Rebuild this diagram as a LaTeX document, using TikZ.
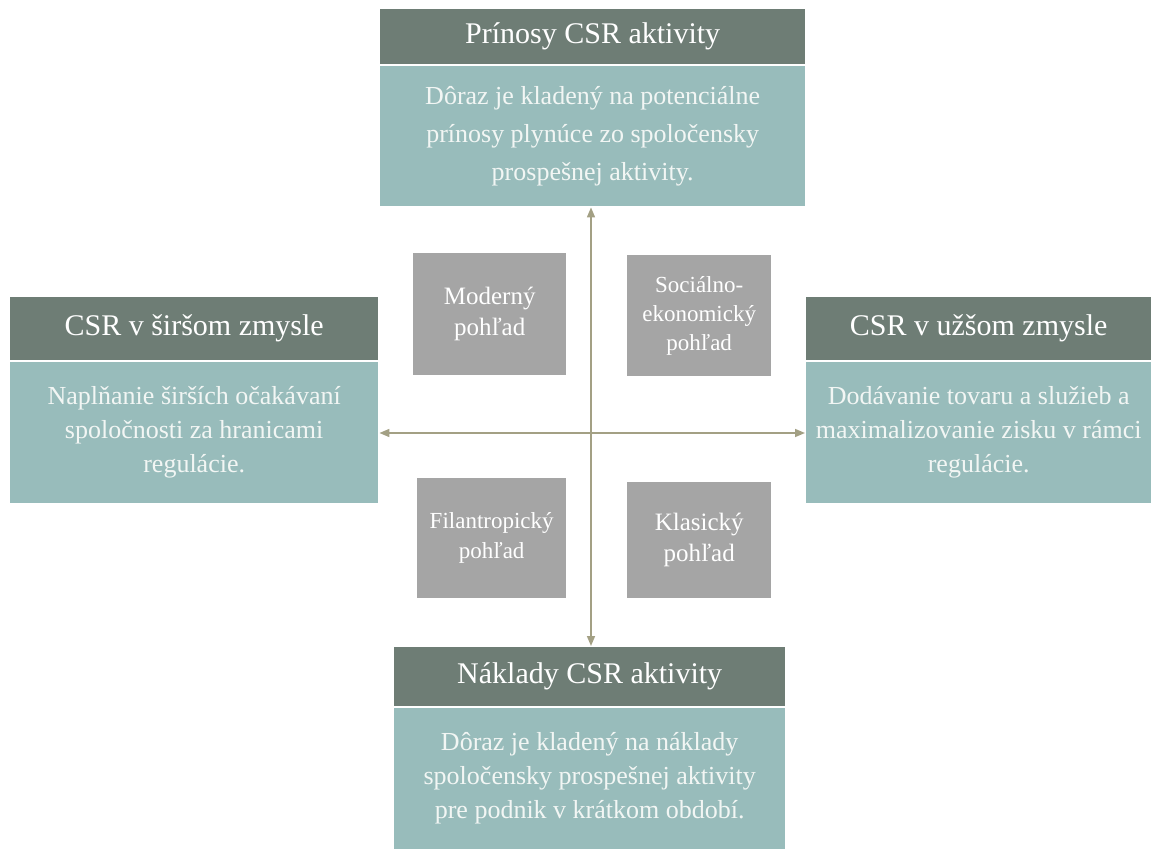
\documentclass[tikz,border=0pt]{standalone}
\usepackage{fontspec}
\setmainfont{Liberation Serif}
\usetikzlibrary{arrows.meta}
\definecolor{headgreen}{HTML}{6E7D75}
\definecolor{bodyteal}{HTML}{98BCBB}
\definecolor{viewgray}{HTML}{A5A5A5}
\definecolor{axiscol}{HTML}{A3A084}
\definecolor{softwhite}{HTML}{F2F6F4}

\begin{document}
\begin{tikzpicture}[x=1pt,y=-1pt,
  headbox/.style={fill=headgreen, text=white, anchor=north west, inner sep=0pt,
    font=\fontsize{30}{34}\selectfont},
  bodybox/.style={fill=bodyteal, text=softwhite, anchor=north west, inner sep=0pt,
    align=center, font=\fontsize{26}{34}\selectfont},
  viewbox/.style={fill=viewgray, text=white, anchor=north west, inner sep=0pt,
    align=center},
  axisline/.style={draw=axiscol, line width=1.5pt,
    {Triangle[length=10pt,width=8pt]}-{Triangle[length=10pt,width=8pt]}}
]
\useasboundingbox (0,0) rectangle (1159,849);

% top: benefits
\node[headbox, minimum width=425pt, minimum height=55pt] (tophead) at (380,9)
  {Prínosy CSR aktivity};
\node[bodybox, minimum width=425pt, minimum height=140pt,
      font=\fontsize{26}{38}\selectfont] (topbody) at (380,66)
  {Dôraz je kladený na potenciálne\\prínosy plynúce zo spoločensky\\prospešnej aktivity.};

% left: broader sense
\node[headbox, minimum width=368pt, minimum height=63pt] (lefthead) at (10,297)
  {CSR v širšom zmysle};
\node[bodybox, minimum width=368pt, minimum height=141pt] (leftbody) at (10,362)
  {Naplňanie širších očakávaní\\spoločnosti za hranicami\\regulácie.};

% right: narrower sense
\node[headbox, minimum width=345pt, minimum height=63pt] (righthead) at (806,297)
  {CSR v užšom zmysle};
\node[bodybox, minimum width=345pt, minimum height=141pt] (rightbody) at (806,362)
  {Dodávanie tovaru a služieb a\\maximalizovanie zisku v rámci\\regulácie.};

% bottom: costs
\node[headbox, minimum width=391pt, minimum height=59pt] (bothead) at (394,647)
  {Náklady CSR aktivity};
\node[bodybox, minimum width=391pt, minimum height=141pt] (botbody) at (394,708)
  {Dôraz je kladený na náklady\\spoločensky prospešnej aktivity\\pre podnik v krátkom období.};

% the four views
\node[viewbox, minimum width=153pt, minimum height=122pt,
      font=\fontsize{25}{31}\selectfont] (modern) at (413,253)
  {Moderný\\pohľad};
\node[viewbox, minimum width=144pt, minimum height=121pt,
      font=\fontsize{23}{29}\selectfont] (socio) at (627,255)
  {Sociálno-\\ekonomický\\pohľad};
\node[viewbox, minimum width=149pt, minimum height=120pt,
      font=\fontsize{23}{30}\selectfont] (philan) at (417,478)
  {Filantropický\\pohľad};
\node[viewbox, minimum width=144pt, minimum height=116pt,
      font=\fontsize{25}{31}\selectfont] (classic) at (627,482)
  {Klasický\\pohľad};

% axes
\coordinate (cross) at (591,433);
\draw[axisline] ([yshift=-1pt]topbody.south -| cross) -- ([yshift=1pt]bothead.north -| cross);
\draw[axisline] ([xshift=1pt]leftbody.east |- cross) -- ([xshift=-1pt]rightbody.west |- cross);
\end{tikzpicture}
\end{document}
